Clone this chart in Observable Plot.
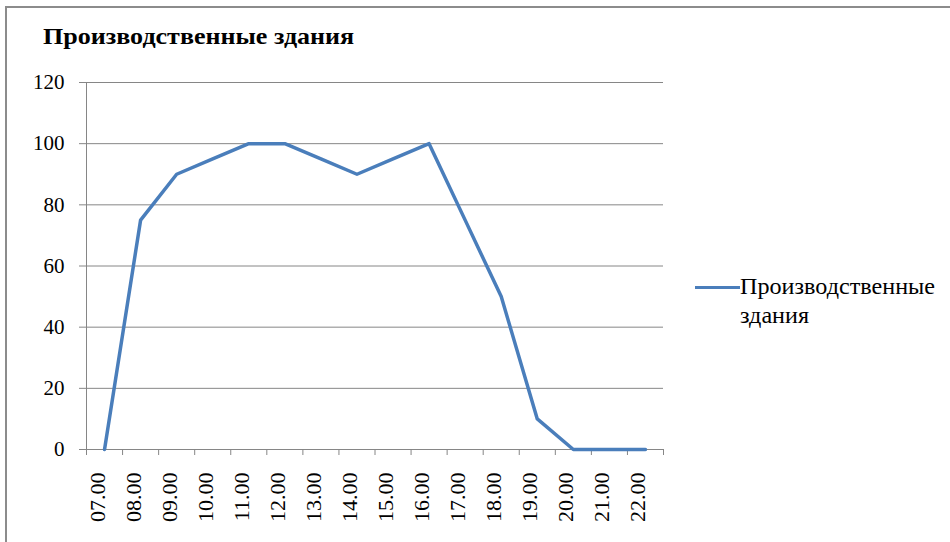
<!DOCTYPE html>
<html>
<head>
<meta charset="utf-8">
<script src="https://cdn.jsdelivr.net/npm/d3@7"></script>
<script src="https://cdn.jsdelivr.net/npm/@observablehq/plot@0.6"></script>
<style>
  html, body { margin: 0; padding: 0; background: #fff; }
  #wrap { position: relative; width: 950px; height: 542px; overflow: hidden; font-family: "Liberation Serif", "DejaVu Serif", serif; }
  #frame { position: absolute; left: 5px; top: 6px; width: 960px; height: 560px; border-top: 2px solid #8c8c8c; border-left: 2px solid #8c8c8c; box-sizing: border-box; }
  #title { position: absolute; left: 43px; top: 23px; font-size: 24px; font-weight: bold; color: #000; white-space: nowrap; transform: scaleX(1.085); transform-origin: left center; }
  #legend { position: absolute; left: 695px; top: 272px; font-size: 23px; line-height: 29px; color: #000; }
  #legend .sw { position: absolute; left: 0; top: 14px; width: 45px; height: 0; border-top: 3.5px solid #4a7ebb; }
  #legend .tx { margin-left: 45px; transform: scaleX(1.05); transform-origin: left center; }
  #chart { position: absolute; left: 0; top: 0; }
</style>
</head>
<body>
<div id="wrap">
  <div id="frame"></div>
  <div id="chart"></div>
  <div id="title">Производственные здания</div>
  <div id="legend"><div class="sw"></div><div class="tx">Производственные<br>здания</div></div>
</div>
<script>
const seriesName = "Производственные здания";
const categories = ["07.00","08.00","09.00","10.00","11.00","12.00","13.00","14.00","15.00","16.00","17.00","18.00","19.00","20.00","21.00","22.00"];
const values = [0, 75, 90, 95, 100, 100, 95, 90, 95, 100, 75, 50, 10, 0, 0, 0];
const yTicks = [0, 20, 40, 60, 80, 100, 120];

const data = categories.map((c, i) => ({cat: c, idx: i + 0.5, value: values[i]}));
const boundaries = d3.range(categories.length + 1);
const serif = "'Liberation Serif', 'DejaVu Serif', serif";

const chart = Plot.plot({
  width: 950,
  height: 542,
  marginLeft: 86,
  marginRight: 287,
  marginTop: 82,
  marginBottom: 93,
  style: {fontFamily: serif, background: "transparent", overflow: "visible"},
  x: {type: "linear", domain: [0, categories.length], axis: null},
  y: {domain: [0, 120], axis: null},
  marks: [
    Plot.ruleY(yTicks, {x1: 0, x2: categories.length, stroke: "#868686", strokeWidth: 1}),
    Plot.axisY({ticks: yTicks, tickSize: 7, tickPadding: 15, stroke: "#868686", fill: "#000", fontSize: 21, tickFormat: d => String(d), anchor: "left", label: null}),
    Plot.ruleX([0], {y1: 0, y2: 120, stroke: "#868686", strokeWidth: 1}),
    Plot.axisX({ticks: boundaries, tickSize: 6, tickFormat: () => "", stroke: "#868686", anchor: "bottom", label: null}),
    Plot.text(data, {x: "idx", text: "cat", frameAnchor: "bottom", dy: 23, rotate: -90, textAnchor: "end", fontSize: 22, fill: "#000"}),
    Plot.line(data, {x: "idx", y: "value", stroke: "#4a7ebb", strokeWidth: 3.5, strokeLinejoin: "round"})
  ]
});
document.getElementById("chart").appendChild(chart);
</script>
</body>
</html>
